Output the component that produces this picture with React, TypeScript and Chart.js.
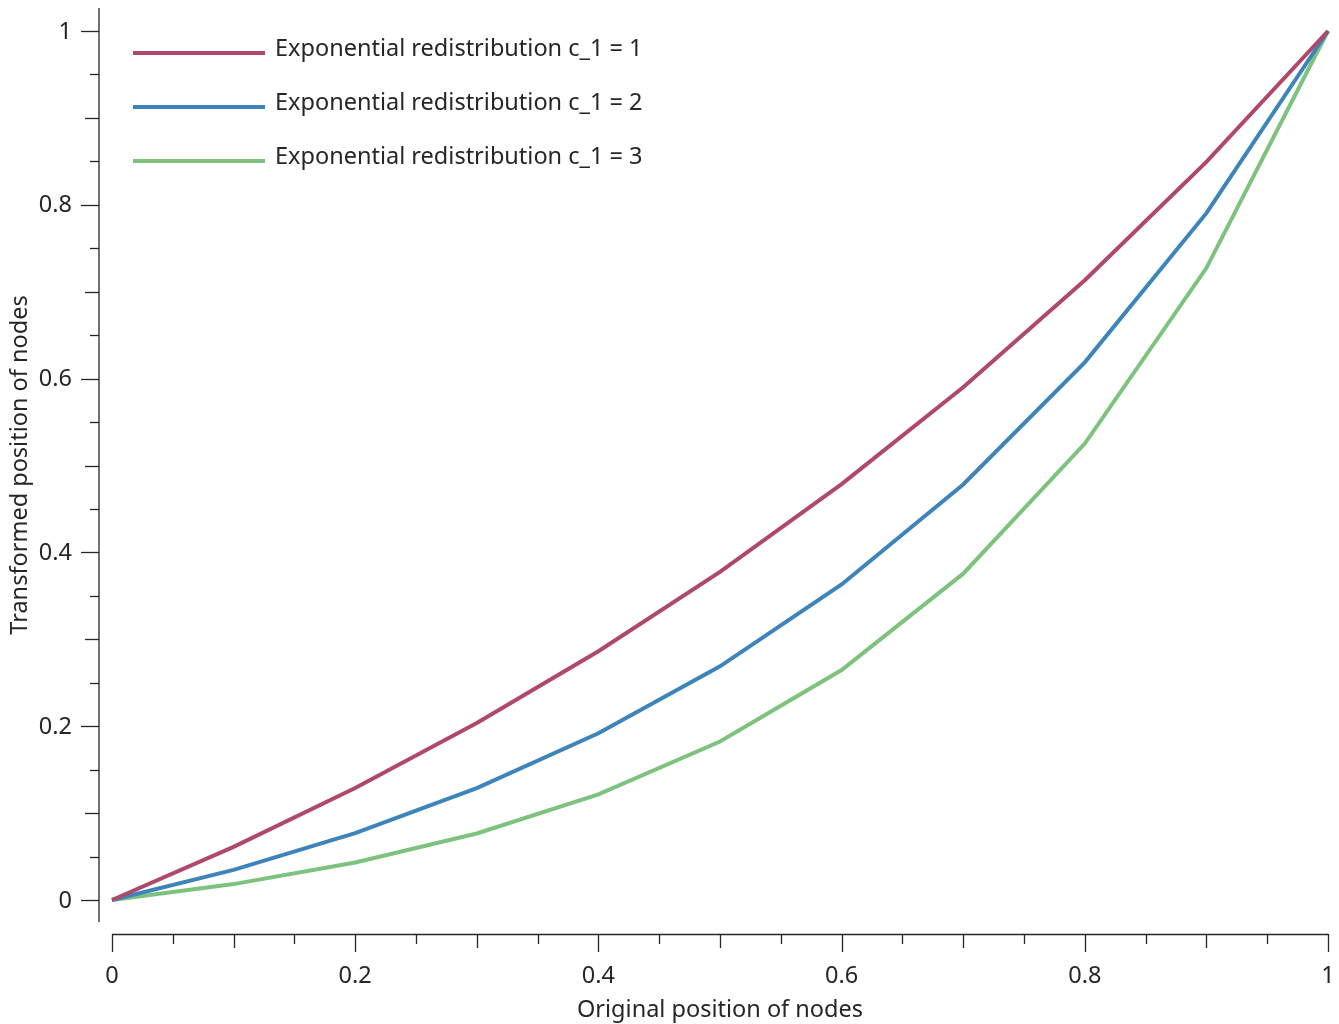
import React, { useEffect, useRef } from "react";
import { Chart, registerables } from "chart.js";

Chart.register(...registerables);

const xValues = [0, 0.1, 0.2, 0.3, 0.4, 0.5, 0.6, 0.7, 0.8, 0.9, 1];
const seriesC1 = [0, 0.0612, 0.1289, 0.2036, 0.2862, 0.3775, 0.4785, 0.59, 0.7132, 0.8494, 1];
const seriesC2 = [0, 0.0347, 0.077, 0.1287, 0.1918, 0.2689, 0.3631, 0.4782, 0.6187, 0.7904, 1];
const seriesC3 = [0, 0.0183, 0.0431, 0.0765, 0.1216, 0.1824, 0.2646, 0.3755, 0.5252, 0.7272, 1];
const seriesLabels = [
  "Exponential redistribution c_1 = 1",
  "Exponential redistribution c_1 = 2",
  "Exponential redistribution c_1 = 3",
];
const seriesColors = ["#B0486A", "#3D84BB", "#7DC27D"];
const tickValues = [0, 0.2, 0.4, 0.6, 0.8, 1];
const tickLabels = ["0", "0.2", "0.4", "0.6", "0.8", "1"];
const xTitle = "Original position of nodes";
const yTitle = "Transformed position of nodes";

const FONT = "'Noto Sans', 'Open Sans', sans-serif";
const TEXT = "#262626";

const axesPlugin = {
  id: "detachedAxes",
  afterDatasetsDraw(chart: any) {
    const ctx = chart.ctx;
    const xs = chart.scales.x;
    const ys = chart.scales.y;
    ctx.save();
    ctx.strokeStyle = "#262626";
    ctx.lineWidth = 1.3;
    ctx.fillStyle = TEXT;

    // Y axis
    const yAxisX = 99;
    ctx.beginPath();
    ctx.moveTo(yAxisX, 8);
    ctx.lineTo(yAxisX, 922);
    ctx.stroke();
    for (let i = 0; i <= 20; i++) {
      const v = i * 0.05;
      const p = Math.round(ys.getPixelForValue(v)) + 0.5;
      const len = i % 4 === 0 ? 18 : i % 2 === 0 ? 14 : 9;
      ctx.beginPath();
      ctx.moveTo(yAxisX - len, p);
      ctx.lineTo(yAxisX, p);
      ctx.stroke();
    }
    ctx.font = `23.5px ${FONT}`;
    ctx.textAlign = "right";
    ctx.textBaseline = "middle";
    tickValues.forEach((v, i) => {
      ctx.fillText(tickLabels[i], 72, ys.getPixelForValue(v) + 1);
    });

    // X axis
    const xAxisY = 934;
    ctx.beginPath();
    ctx.moveTo(xs.getPixelForValue(0), xAxisY + 0.5);
    ctx.lineTo(xs.getPixelForValue(1), xAxisY + 0.5);
    ctx.stroke();
    for (let i = 0; i <= 20; i++) {
      const v = i * 0.05;
      const p = Math.round(xs.getPixelForValue(v)) + 0.5;
      const len = i % 4 === 0 ? 18 : i % 2 === 0 ? 14 : 10;
      ctx.beginPath();
      ctx.moveTo(p, xAxisY);
      ctx.lineTo(p, xAxisY + len);
      ctx.stroke();
    }
    ctx.textAlign = "center";
    tickValues.forEach((v, i) => {
      ctx.fillText(tickLabels[i], xs.getPixelForValue(v), 976);
    });

    // Titles
    ctx.fillText(xTitle, 720, 1010);
    ctx.save();
    ctx.translate(20, 465);
    ctx.rotate(-Math.PI / 2);
    ctx.fillText(yTitle, 0, 0);
    ctx.restore();

    // Legend
    const legendY = [53, 107, 161];
    chart.data.datasets.forEach((ds: any, i: number) => {
      ctx.strokeStyle = ds.borderColor;
      ctx.lineWidth = 4;
      ctx.beginPath();
      ctx.moveTo(133, legendY[i]);
      ctx.lineTo(265, legendY[i]);
      ctx.stroke();
      ctx.textAlign = "left";
      ctx.fillStyle = TEXT;
      ctx.fillText(ds.label, 275, legendY[i] - 4);
    });
    ctx.restore();
  },
};

export default function App() {
  const ref = useRef<HTMLCanvasElement | null>(null);
  useEffect(() => {
    document.body.style.margin = "0";
    const canvas = ref.current!;
    const series = [seriesC1, seriesC2, seriesC3];
    const chart = new Chart(canvas, {
      type: "line",
      data: {
        datasets: series.map((s, i) => ({
          label: seriesLabels[i],
          data: xValues.map((x, j) => ({ x, y: s[j] })),
          borderColor: seriesColors[i],
          backgroundColor: seriesColors[i],
          borderWidth: 4,
          pointRadius: 0,
          tension: 0,
          clip: false as any,
        })),
      },
      options: {
        animation: false,
        responsive: false,
        maintainAspectRatio: false,
        layout: { padding: { left: 112, right: 11, top: 31, bottom: 124 } },
        plugins: { legend: { display: false }, tooltip: { enabled: false } },
        scales: {
          x: { type: "linear", min: 0, max: 1, display: false },
          y: { type: "linear", min: 0, max: 1, display: false },
        },
      },
      plugins: [axesPlugin],
    });
    return () => chart.destroy();
  }, []);
  return (
    <div style={{ position: "absolute", left: 0, top: 0, width: 1339, height: 1024, background: "#fff" }}>
      <canvas ref={ref} width={1339} height={1024} />
    </div>
  );
}
